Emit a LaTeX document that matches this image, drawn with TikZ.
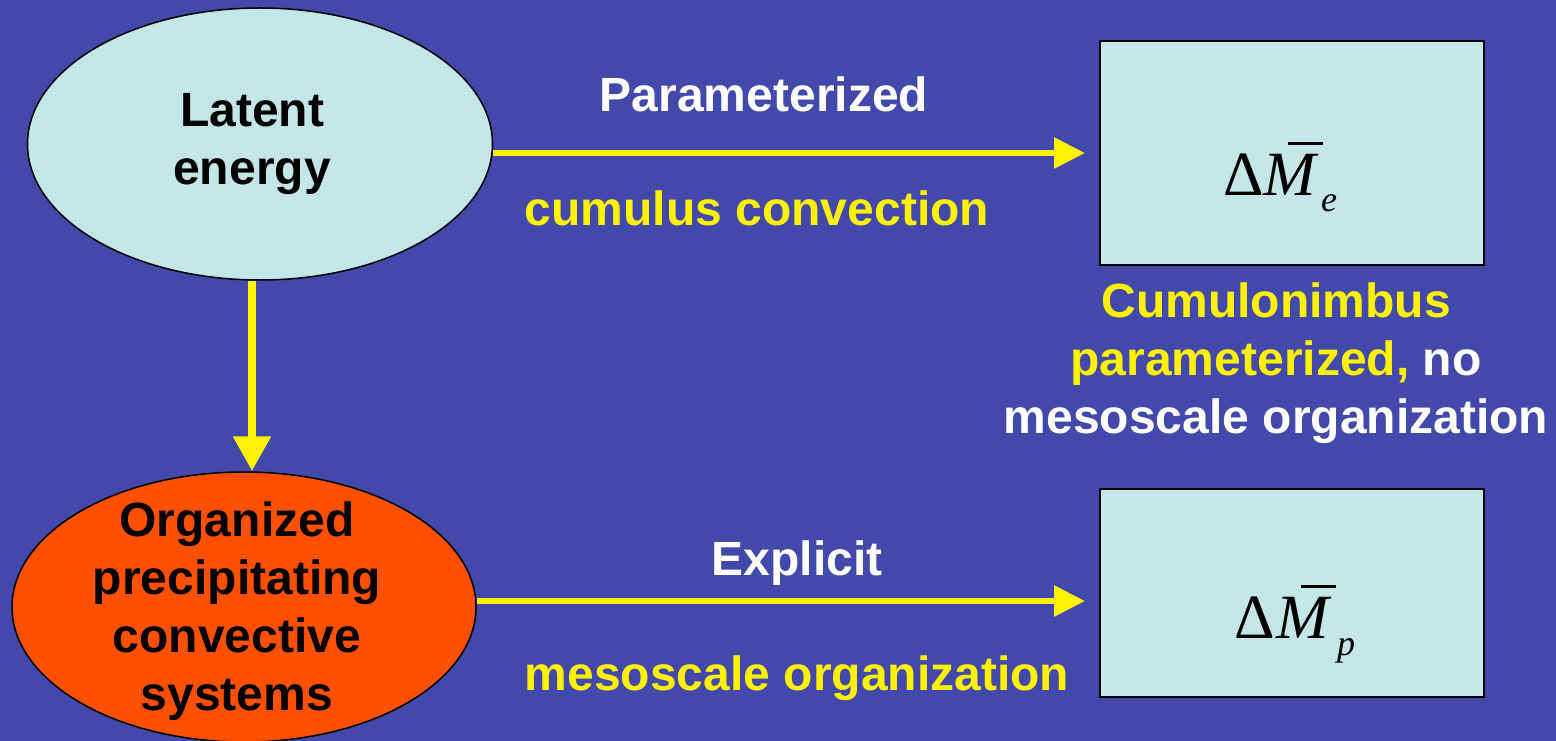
\documentclass[tikz,border=0pt]{standalone}
\usepackage{fontspec}
\setmainfont{Liberation Sans}
\newfontfamily\timesf{Liberation Serif}
\usepackage{tikz}
\usetikzlibrary{shapes.geometric, arrows.meta, positioning}
\definecolor{slideblue}{RGB}{67,73,170}
\definecolor{paleblue}{RGB}{196,230,230}
\definecolor{hotorange}{RGB}{255,80,0}
\newcommand{\bigtxt}{\fontsize{48}{58}\selectfont\bfseries}
\newcommand{\dmsym}[4]{Δ\kern#3\rlap{\kern24pt\rule[50pt]{35pt}{3pt}}{\itshape M}\kern#4\raisebox{-#2}{\fontsize{36}{36}\selectfont\itshape #1}}
\tikzset{
    bubble/.style={ellipse, draw=black, line width=1.5pt, inner sep=0pt},
    result/.style={rectangle, draw=black, line width=2pt, fill=paleblue, minimum width=384pt, minimum height=224pt},
    caption/.style={inner sep=0pt, align=center, font=\bigtxt},
    tag/.style={inner sep=0pt, anchor=base, font=\bigtxt},
    symb/.style={inner sep=0pt, anchor=base west, font=\timesf\fontsize{63}{63}\selectfont},
    arrow/.style={-{Triangle[length=31pt, width=30pt]}, line width=6pt, draw=yellow}
}

\begin{document}
\begin{tikzpicture}[x=1pt, y=-1pt]
        % --- Slide background ---
        \useasboundingbox (0,0) rectangle (1556,741);
        \fill [slideblue] (0,0) rectangle (1556,741);

        % --- Sources (ellipses) ---
        \node (latent) [bubble, fill=paleblue, minimum width=465pt, minimum height=272pt] at (260,144) {};
        \node (latenttxt) [caption] at ([xshift=-8pt]latent.center) {Latent\\energy};

        \node (org) [bubble, fill=hotorange, minimum width=464pt, minimum height=270pt] at (244,607) {};
        \node (orgtxt) [caption] at ([xshift=-7pt, yshift=-4.5pt]org.center) {Organized\\precipitating\\convective\\systems};

        % --- Results (boxes) ---
        \node (mebox) [result] at (1292,153) {};
        \node (metxt) [symb] at ([xshift=124pt, yshift=-42pt]mebox.west) {\dmsym{e}{17pt}{0pt}{5pt}};

        \node (mpbox) [result, minimum height=208pt] at (1292,593) {};
        \node (mptxt) [symb] at ([xshift=135pt, yshift=-45pt]mpbox.west) {\dmsym{p}{17pt}{2pt}{8pt}};

        \node (cbnote) [caption, text=white, below=17pt of mebox, xshift=-16pt] {\textcolor{yellow}{Cumulonimbus}\\\textcolor{yellow}{parameterized,} no\\mesoscale organization};

        % --- Arrow labels ---
        \node (paramtxt) [tag, text=white] at (764,112) {Parameterized};
        \node (cumtxt) [tag, text=yellow] at (757,225) {cumulus convection};
        \node (explicittxt) [tag, text=white] at (797,575) {Explicit};
        \node (mesotxt) [tag, text=yellow] at (797,690) {mesoscale organization};

        % --- Arrows ---
        \draw [arrow, shorten >=14pt] (mebox.west -| latent.east) -- (mebox.west);
        \draw [arrow, shorten >=14pt] ([yshift=6pt]org.east) -- ([yshift=6pt]org.east -| mpbox.west);
        \draw [arrow, line width=8.5pt, -{Triangle[length=35pt, width=36pt]}] ([xshift=-8pt]latent.south) -- ([xshift=8pt]org.north);
    \end{tikzpicture}
\end{document}
